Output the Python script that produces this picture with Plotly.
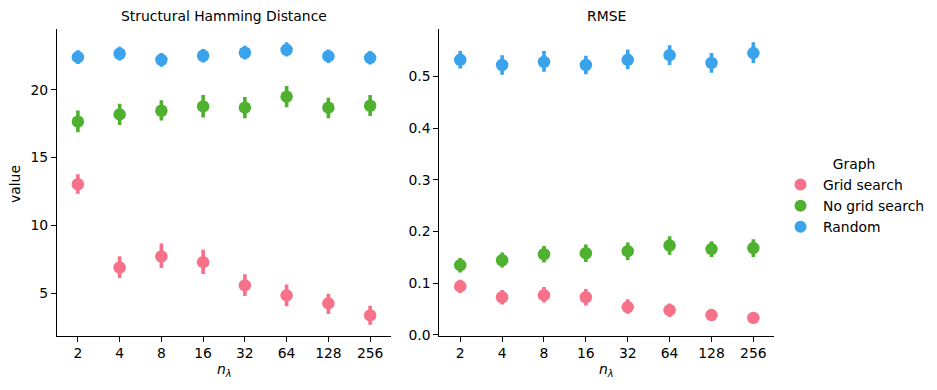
import plotly.graph_objects as go

categories = ["2", "4", "8", "16", "32", "64", "128", "256"]
groups = ["Grid search", "No grid search", "Random"]
colors = ["#f77189", "#50b131", "#3ba3ec"]

# Structural Hamming Distance: means, upper and lower CI half-widths
shd_mean = {
    "Grid search":    [13.04, 6.91, 7.72, 7.30, 5.59, 4.85, 4.26, 3.38],
    "No grid search": [17.65, 18.18, 18.45, 18.77, 18.68, 19.49, 18.68, 18.82],
    "Random":         [22.40, 22.65, 22.20, 22.50, 22.72, 22.94, 22.47, 22.35],
}
shd_up = {
    "Grid search":    [0.74, 0.82, 0.95, 0.92, 0.82, 0.80, 0.72, 0.72],
    "No grid search": [0.82, 0.78, 0.78, 0.85, 0.78, 0.78, 0.72, 0.80],
    "Random":         [0.50, 0.52, 0.50, 0.50, 0.52, 0.55, 0.50, 0.50],
}
shd_lo = {
    "Grid search":    [0.70, 0.78, 0.85, 0.88, 0.78, 0.80, 0.78, 0.68],
    "No grid search": [0.78, 0.78, 0.72, 0.81, 0.78, 0.78, 0.78, 0.76],
    "Random":         [0.50, 0.50, 0.50, 0.50, 0.50, 0.50, 0.50, 0.50],
}

# RMSE
rmse_mean = {
    "Grid search":    [0.094, 0.073, 0.077, 0.073, 0.054, 0.048, 0.0385, 0.033],
    "No grid search": [0.135, 0.1445, 0.156, 0.158, 0.162, 0.173, 0.166, 0.168],
    "Random":         [0.532, 0.522, 0.528, 0.522, 0.532, 0.541, 0.526, 0.545],
}
rmse_up = {
    "Grid search":    [0.013, 0.014, 0.016, 0.016, 0.015, 0.013, 0.008, 0.007],
    "No grid search": [0.014, 0.015, 0.016, 0.017, 0.017, 0.018, 0.015, 0.017],
    "Random":         [0.017, 0.019, 0.021, 0.018, 0.020, 0.019, 0.019, 0.021],
}
rmse_lo = {
    "Grid search":    [0.013, 0.014, 0.014, 0.016, 0.013, 0.013, 0.008, 0.007],
    "No grid search": [0.014, 0.014, 0.016, 0.017, 0.017, 0.018, 0.015, 0.017],
    "Random":         [0.017, 0.019, 0.019, 0.018, 0.018, 0.019, 0.019, 0.019],
}

FONT = "DejaVu Sans"
FS = 13.9

fig = go.Figure()
for g, c in zip(groups, colors):
    fig.add_trace(go.Scatter(
        x=categories, y=shd_mean[g], mode="markers", name=g, legendgroup=g,
        marker=dict(color=c, size=12.5, line=dict(width=0)),
        error_y=dict(type="data", symmetric=False, array=shd_up[g], arrayminus=shd_lo[g],
                     color=c, thickness=3.6, width=0),
        xaxis="x", yaxis="y", showlegend=True,
    ))
for g, c in zip(groups, colors):
    fig.add_trace(go.Scatter(
        x=categories, y=rmse_mean[g], mode="markers", name=g, legendgroup=g,
        marker=dict(color=c, size=12.5, line=dict(width=0)),
        error_y=dict(type="data", symmetric=False, array=rmse_up[g], arrayminus=rmse_lo[g],
                     color=c, thickness=3.6, width=0),
        xaxis="x2", yaxis="y2", showlegend=False,
    ))

H = 390.0
W = 937.0
ydom = [(H - 335.5) / H, (H - 29.3) / H]
axcommon = dict(showline=True, linecolor="black", linewidth=1.1, mirror=False,
                ticks="outside", ticklen=5, tickwidth=1.1, tickcolor="black",
                showgrid=False, zeroline=False, automargin=False,
                tickfont=dict(family=FONT, size=FS, color="black"))

fig.update_layout(
    width=937, height=390, autosize=False,
    margin=dict(l=0, r=0, t=0, b=0, pad=0, autoexpand=False),
    paper_bgcolor="white", plot_bgcolor="white",
    font=dict(family=FONT, size=FS, color="black"),
    xaxis=dict(domain=[57 / W, 391 / W], type="category", range=[-0.5, 7.5],
               anchor="y", **axcommon),
    yaxis=dict(domain=ydom, range=[1.9, 24.45], tickvals=[5, 10, 15, 20],
               anchor="x", **axcommon),
    xaxis2=dict(domain=[439.3 / W, 774.3 / W], type="category", range=[-0.5, 7.5],
                anchor="y2", **axcommon),
    yaxis2=dict(domain=ydom, range=[-0.001, 0.591],
                tickvals=[0, 0.1, 0.2, 0.3, 0.4, 0.5],
                ticktext=["0.0", "0.1", "0.2", "0.3", "0.4", "0.5"],
                anchor="x2", **axcommon),
    legend=dict(x=778 / W, y=1 - 151 / H, xanchor="left", yanchor="top",
                title=dict(text="Graph", side="top center",
                           font=dict(family=FONT, size=FS, color="black")),
                font=dict(family=FONT, size=FS, color="black"),
                bgcolor="rgba(0,0,0,0)", itemsizing="constant", tracegroupgap=0,
                itemwidth=35),
    showlegend=True,
    annotations=[
        dict(text="Structural Hamming Distance", x=224 / W, y=1 - 16 / H, xref="paper",
             yref="paper", showarrow=False, xanchor="center", yanchor="middle",
             font=dict(family=FONT, size=FS, color="black")),
        dict(text="RMSE", x=606.8 / W, y=1 - 16 / H, xref="paper",
             yref="paper", showarrow=False, xanchor="center", yanchor="middle",
             font=dict(family=FONT, size=FS, color="black")),
        dict(text="<i>n</i><sub><i>λ</i></sub>", x=224 / W, y=1 - 370 / H, xref="paper",
             yref="paper", showarrow=False, xanchor="center", yanchor="middle",
             font=dict(family=FONT, size=FS, color="black")),
        dict(text="<i>n</i><sub><i>λ</i></sub>", x=606.8 / W, y=1 - 370 / H, xref="paper",
             yref="paper", showarrow=False, xanchor="center", yanchor="middle",
             font=dict(family=FONT, size=FS, color="black")),
        dict(text="value", x=15 / W, y=1 - 184 / H, xref="paper", yref="paper",
             showarrow=False, textangle=-90, xanchor="center", yanchor="middle",
             font=dict(family=FONT, size=FS, color="black")),
    ],
)

fig.write_html(
    "out.html",
    config={"displayModeBar": False, "responsive": False},
    post_script=(
        "document.documentElement.style.margin='0';"
        "document.documentElement.style.padding='0';"
        "document.documentElement.style.overflow='hidden';"
        "document.body.style.margin='0';"
        "document.body.style.padding='0';"
        "document.body.style.overflow='hidden';"
    ),
)
